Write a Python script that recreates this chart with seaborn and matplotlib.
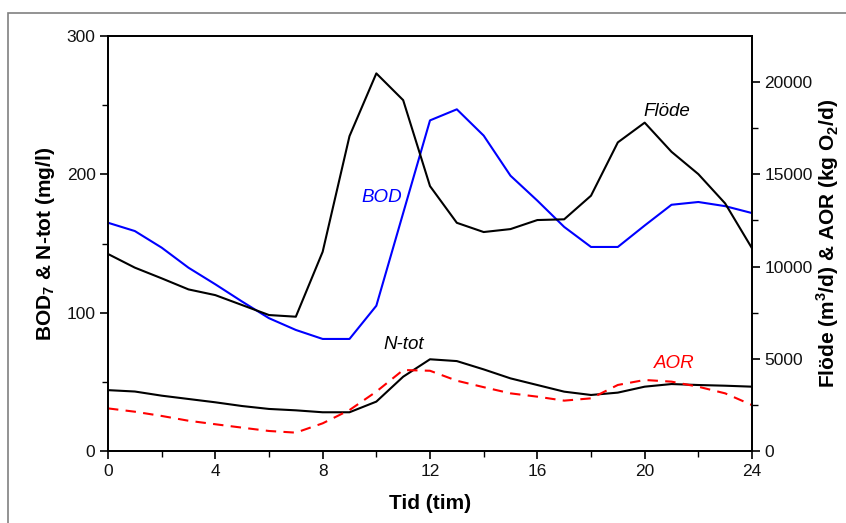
import matplotlib
matplotlib.use("Agg")
import matplotlib.pyplot as plt
from matplotlib.patches import Rectangle
from matplotlib.ticker import MultipleLocator
import seaborn as sns
import pandas as pd

sns.set_theme(style="white")
plt.rcParams["font.family"] = ["Liberation Sans", "DejaVu Sans"]
plt.rcParams["mathtext.fontset"] = "custom"
plt.rcParams["mathtext.rm"] = "Liberation Sans"
plt.rcParams["mathtext.bf"] = "Liberation Sans:bold"
plt.rcParams["text.color"] = "black"
plt.rcParams["axes.labelcolor"] = "black"

hours = list(range(25))
bod = [165, 159, 147, 132.5, 120.5, 108, 96, 87.5, 81, 81, 105, 172, 239, 247, 228,
       199, 181, 162, 147.5, 147.5, 163, 178, 180, 177, 172]
ntot = [44, 43, 40, 37.6, 35.2, 32.5, 30.4, 29.4, 28, 28, 35.7, 53.7, 66.3, 65, 59,
        52.5, 47.7, 42.9, 40.5, 42.2, 46.5, 48.4, 47.7, 47.2, 46.5]
flode = [10680, 9940, 9360, 8760, 8450, 7910, 7370, 7280, 10800, 17070, 20470, 19020,
         14360, 12370, 11870, 12030, 12520, 12560, 13840, 16730, 17800, 16220, 15010,
         13420, 10990]
aor = [2310, 2130, 1900, 1640, 1450, 1265, 1085, 995, 1500, 2220, 3220, 4390, 4350,
       3810, 3460, 3125, 2945, 2730, 2855, 3580, 3850, 3760, 3485, 3125, 2490]

df = pd.DataFrame({"tid": hours, "BOD": bod, "N-tot": ntot, "Flöde": flode, "AOR": aor})

fig = plt.figure(figsize=(8.46, 5.23), dpi=100)
fig.patch.set_facecolor("white")
ax = fig.add_axes([108 / 846, 72 / 523, 644 / 846, 415 / 523])
ax2 = ax.twinx()

sns.lineplot(data=df, x="tid", y="BOD", ax=ax, color="#0000ff", lw=1.5)
sns.lineplot(data=df, x="tid", y="N-tot", ax=ax, color="black", lw=1.5)
sns.lineplot(data=df, x="tid", y="Flöde", ax=ax2, color="black", lw=1.5)
sns.lineplot(data=df, x="tid", y="AOR", ax=ax2, color="#ff0000", lw=1.5,
             linestyle=(0, (5, 3.5)))

ax.set_xlim(0, 24)
ax.set_ylim(0, 300)
ax2.set_ylim(0, 300 * 20000 / 266.7)

ax.xaxis.set_major_locator(MultipleLocator(4))
ax.xaxis.set_minor_locator(MultipleLocator(2))
ax.yaxis.set_major_locator(MultipleLocator(100))
ax.yaxis.set_minor_locator(MultipleLocator(50))
ax2.yaxis.set_major_locator(MultipleLocator(5000))
ax2.yaxis.set_minor_locator(MultipleLocator(2500))

for a in (ax, ax2):
    for s in a.spines.values():
        s.set_color("black")
        s.set_linewidth(1.3)
ax.tick_params(axis="both", which="major", direction="out", length=6, width=1.2,
               labelsize=12.5, color="black", labelcolor="#111111", pad=3)
ax.tick_params(axis="both", which="minor", direction="out", length=4, width=1.0,
               color="black")
ax.tick_params(left=True, bottom=True, which="both")
ax2.tick_params(axis="y", which="major", direction="out", length=6, width=1.2,
                labelsize=12.5, color="black", labelcolor="#111111", pad=3, right=True)
ax2.tick_params(axis="y", which="minor", direction="out", length=4, width=1.0,
                color="black", right=True)

ax.set_xlabel("Tid (tim)", fontsize=15, fontweight="bold", labelpad=11)
ax.set_ylabel(r"BOD$_\mathbf{7}$ & N-tot (mg/l)", fontsize=15, fontweight="bold",
              labelpad=7)
ax2.set_ylabel(r"Flöde (m$^\mathbf{3}$/d) & AOR (kg O$_\mathbf{2}$/d)", fontsize=15,
               fontweight="bold", labelpad=1)

# Series names written next to their curves
ax.text(10.96, 183, "BOD", color="#0000ff", style="italic", fontsize=13.5,
        ha="right", va="center")
ax.text(11.03, 77, "N-tot", color="black", style="italic", fontsize=13.5,
        ha="center", va="center")
ax2.text(20.82, 18430, "Flöde", color="black", style="italic", fontsize=13.5,
         ha="center", va="center")
ax2.text(21.1, 4770, "AOR", color="#ff0000", style="italic", fontsize=13.5,
         ha="center", va="center")

# Thin grey frame around the figure
fig.patches.append(Rectangle((7.5 / 846, -0.05), 1.2, (523 - 12.5) / 523 + 0.05,
                             transform=fig.transFigure, fill=False,
                             edgecolor="#808080", lw=1.2))

fig.savefig("out.png", dpi=100)
